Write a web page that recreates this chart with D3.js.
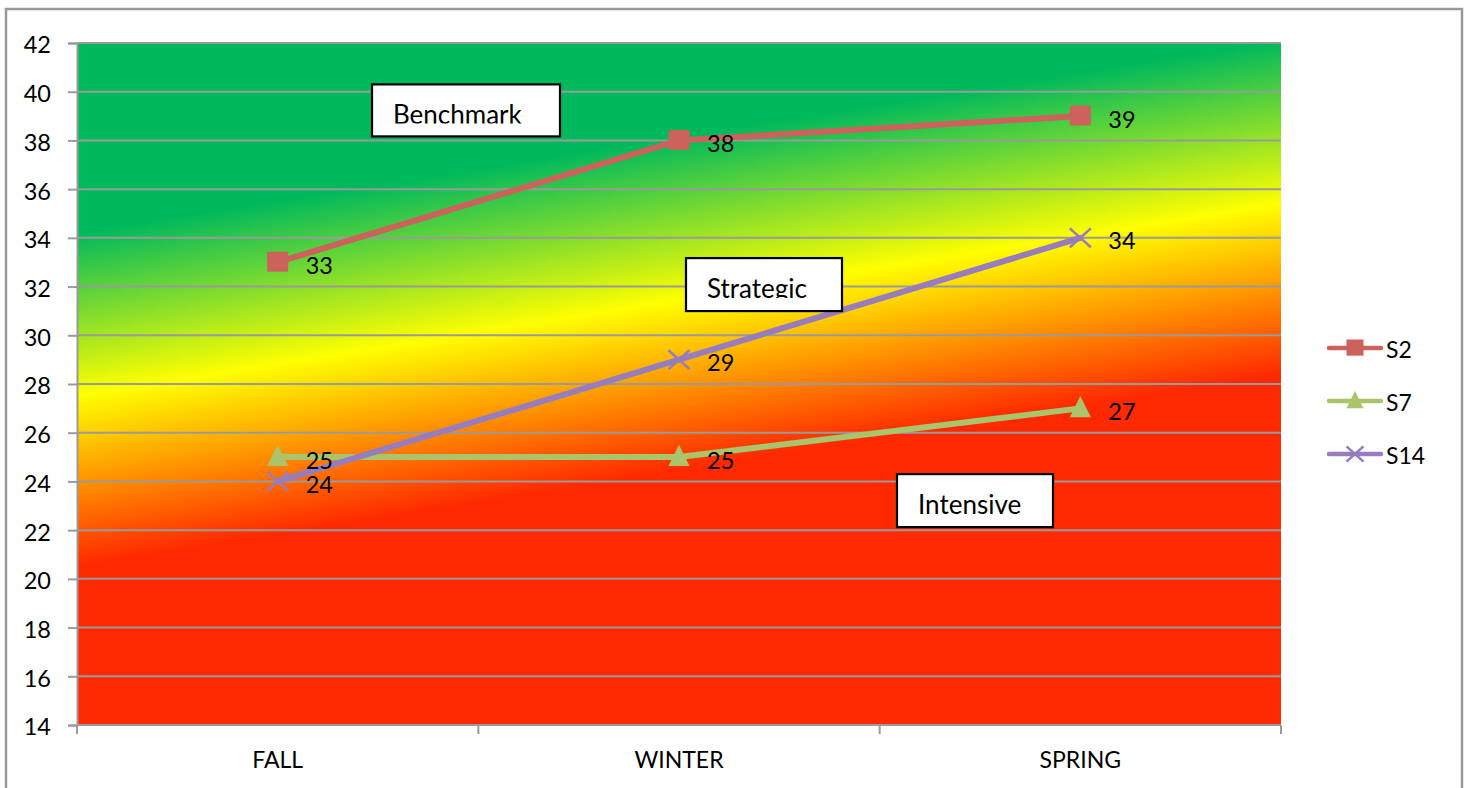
<!DOCTYPE html>
<html>
<head>
<meta charset="utf-8">
<script src="https://cdn.jsdelivr.net/npm/d3@7"></script>
<style>
  html, body { margin: 0; padding: 0; background: #fff; }
  svg { display: block; font-family: Lato, "Open Sans", sans-serif; }
</style>
</head>
<body>
<svg id="chart" width="1468" height="788"></svg>
<script>
// Reading scores by season for three students
const seasons = ["FALL", "WINTER", "SPRING"];
const s2Scores = [33, 38, 39];
const s7Scores = [25, 25, 27];
const s14Scores = [24, 29, 34];
const seriesNames = ["S2", "S7", "S14"];
const seriesColors = ["#CD615C", "#A9C46A", "#977DBE"];
const seriesMarkers = ["square", "triangle", "cross"];
const yTicks = [14, 16, 18, 20, 22, 24, 26, 28, 30, 32, 34, 36, 38, 40, 42];

// Performance zones: score at which each colour peaks on the left edge,
// and how far the zones climb across the plot
const zoneNames = ["Benchmark", "Strategic", "Intensive"];
const zoneStops = [
  { score: 34.2, color: "#00B95C" },
  { score: 27.5, color: "#FFFF00" },
  { score: 20.5, color: "#FF2900" }
];
const zoneRise = 7.9;

const svg = d3.select("#chart");
const margin = { left: 77, right: 187, top: 43, bottom: 63 };
const W = 1468, H = 788;
const plotW = W - margin.left - margin.right;
const plotH = H - margin.top - margin.bottom;

const x = d3.scaleBand().domain(seasons).range([0, plotW]).padding(0);
const y = d3.scaleLinear().domain([14, 42]).range([plotH, 0]);

// outer chart frame
svg.append("rect")
  .attr("x", 6).attr("y", 9)
  .attr("width", 1456).attr("height", 800)
  .attr("fill", "#fff").attr("stroke", "#9a9a9a").attr("stroke-width", 2.5);

const g = svg.append("g").attr("transform", `translate(${margin.left},${margin.top})`);

// diagonal zone gradient
const defs = svg.append("defs");
const skewDeg = Math.atan((y(zoneRise) - y(0)) / plotW) * 180 / Math.PI;
const y0 = y(zoneStops[0].score), y1 = y(zoneStops[zoneStops.length - 1].score);
const grad = defs.append("linearGradient")
  .attr("id", "zones")
  .attr("gradientUnits", "userSpaceOnUse")
  .attr("x1", 0).attr("x2", 0)
  .attr("y1", y0).attr("y2", y1)
  .attr("gradientTransform", `skewY(${skewDeg})`);
zoneStops.forEach(s => {
  grad.append("stop")
    .attr("offset", (y(s.score) - y0) / (y1 - y0))
    .attr("stop-color", s.color);
});

g.append("rect")
  .attr("x", 0).attr("y", 0)
  .attr("width", plotW).attr("height", plotH)
  .attr("fill", "url(#zones)");

// horizontal gridlines
g.append("g").selectAll("line")
  .data(yTicks.slice(1))
  .join("line")
  .attr("x1", 0).attr("x2", plotW)
  .attr("y1", d => y(d)).attr("y2", d => y(d))
  .attr("stroke", "#9a9a9a").attr("stroke-width", 2);

// y axis
const yAxis = g.append("g")
  .call(d3.axisLeft(y).tickValues(yTicks).tickSize(9).tickPadding(17).tickFormat(d3.format("d")));
yAxis.select(".domain").attr("stroke", "#9a9a9a").attr("stroke-width", 2);
yAxis.selectAll(".tick line").attr("stroke", "#9a9a9a").attr("stroke-width", 2);
yAxis.selectAll(".tick text")
  .attr("font-family", "Lato, sans-serif").attr("font-size", 23.5)
  .attr("fill", "#000").attr("dy", "0.42em");

// x axis
const xAxisG = g.append("g").attr("transform", `translate(0,${plotH})`);
xAxisG.append("line")
  .attr("x1", 0).attr("x2", plotW)
  .attr("stroke", "#9a9a9a").attr("stroke-width", 2);
const bounds = seasons.map(s => x(s)).concat([plotW]);
xAxisG.selectAll("line.tick")
  .data(bounds)
  .join("line")
  .attr("class", "tick")
  .attr("x1", d => d).attr("x2", d => d)
  .attr("y1", 0).attr("y2", 9)
  .attr("stroke", "#9a9a9a").attr("stroke-width", 2);
xAxisG.selectAll("text")
  .data(seasons)
  .join("text")
  .attr("x", d => x(d) + x.bandwidth() / 2)
  .attr("y", 43)
  .attr("text-anchor", "middle")
  .attr("font-size", 23)
  .attr("fill", "#000")
  .text(d => d);

// markers
function drawMarker(sel, type, color, size) {
  if (type === "square") {
    sel.append("rect")
      .attr("x", -size / 2).attr("y", -size / 2)
      .attr("width", size).attr("height", size * 0.95)
      .attr("fill", color);
  } else if (type === "triangle") {
    const h = size * 1.02;
    sel.append("path")
      .attr("d", `M0,${-h * 0.58} L${size / 2},${h * 0.42} L${-size / 2},${h * 0.42} Z`)
      .attr("fill", color);
  } else {
    const r = size / 2;
    sel.append("path")
      .attr("d", `M${-r},${-r * 0.9} L${r},${r * 0.9} M${-r},${r * 0.9} L${r},${-r * 0.9}`)
      .attr("stroke", color).attr("stroke-width", 2.6).attr("fill", "none");
  }
}

const seriesData = [s2Scores, s7Scores, s14Scores];
const line = d3.line()
  .x((d, i) => x(seasons[i]) + x.bandwidth() / 2)
  .y(d => y(d));

seriesData.forEach((vals, si) => {
  const color = seriesColors[si];
  g.append("path")
    .datum(vals)
    .attr("d", line)
    .attr("fill", "none")
    .attr("stroke", color)
    .attr("stroke-width", 6)
    .attr("stroke-linecap", "round")
    .attr("stroke-linejoin", "round");
  vals.forEach((v, i) => {
    const m = g.append("g")
      .attr("transform", `translate(${x(seasons[i]) + x.bandwidth() / 2},${y(v)})`);
    drawMarker(m, seriesMarkers[si], color, 21);
  });
});

// value labels
seriesData.forEach(vals => {
  vals.forEach((v, i) => {
    g.append("text")
      .attr("x", x(seasons[i]) + x.bandwidth() / 2 + 28)
      .attr("y", y(v) + 3)
      .attr("dy", "0.36em")
      .attr("font-size", 23.5)
      .attr("fill", "#000")
      .text(v);
  });
});

// zone label boxes
const zoneBoxes = [
  { left: 295, top: 40.3, w: 188, h: 52 },
  { left: 609, top: 33.17, w: 156, h: 53 },
  { left: 820, top: 24.3, w: 156, h: 53 }
];
zoneNames.forEach((name, i) => {
  const b = zoneBoxes[i];
  const by = y(b.top);
  defs.append("clipPath").attr("id", "clip" + i)
    .append("rect")
    .attr("x", b.left).attr("y", by)
    .attr("width", b.w).attr("height", b.h - 13);
  g.append("rect")
    .attr("x", b.left).attr("y", by)
    .attr("width", b.w).attr("height", b.h)
    .attr("fill", "#fff").attr("stroke", "#000").attr("stroke-width", 2.2);
  g.append("text")
    .attr("x", b.left + 21).attr("y", by + 40)
    .attr("font-size", 26)
    .attr("fill", "#000")
    .attr("clip-path", `url(#clip${i})`)
    .text(name);
});

// legend
const legend = svg.append("g").attr("transform", "translate(1327,348)");
seriesNames.forEach((name, i) => {
  const row = legend.append("g").attr("transform", `translate(0,${i * 53})`);
  row.append("line")
    .attr("x1", 2).attr("x2", 54)
    .attr("stroke", seriesColors[i]).attr("stroke-width", 4.5)
    .attr("stroke-linecap", "round");
  const m = row.append("g").attr("transform", "translate(28,0)");
  drawMarker(m, seriesMarkers[i], seriesColors[i], 17);
  row.append("text")
    .attr("x", 59).attr("y", 2)
    .attr("dy", "0.36em")
    .attr("font-size", 23)
    .attr("fill", "#000")
    .text(name);
});
</script>
</body>
</html>
